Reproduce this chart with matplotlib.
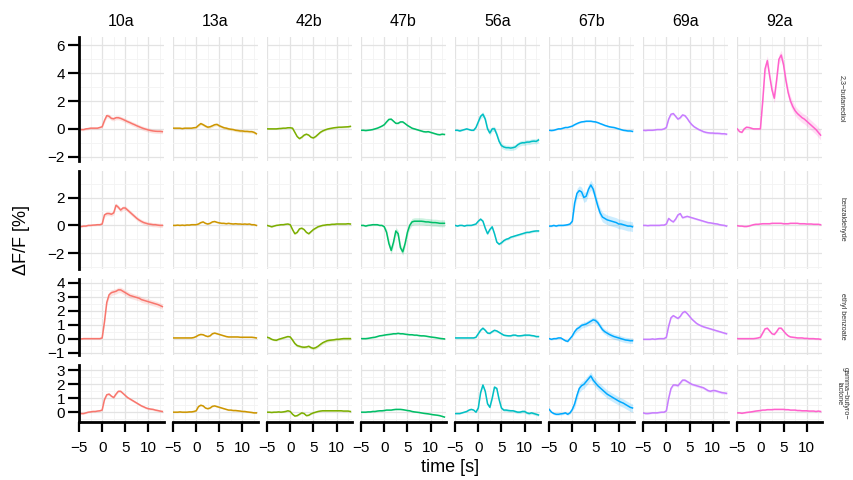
import numpy as np
import matplotlib
matplotlib.use("Agg")
import matplotlib.pyplot as plt
from matplotlib.ticker import MultipleLocator

# time axis (s), 0.5 s steps from -5 to 13
time_s = np.arange(-5, 13.01, 0.5)

neurons = ["10a", "13a", "42b", "47b", "56a", "67b", "69a", "92a"]
odors = ["2,3\u2212butanediol", "benzaldehyde", "ethyl benzoate",
         "gamma\u2212butyro\u2212\nlactone"]
colors = ["#F8766D", "#CD9600", "#7CAE00", "#00BE67",
          "#00BFC4", "#00A9FF", "#C77CFF", "#FF61CC"]

# mean dF/F (%) per neuron, one dict per odor
butanediol = {
    "10a": [0.0, -0.05, -0.05, 0.0, 0.02, 0.05, 0.05, 0.05, 0.05, 0.1, 0.15, 0.6, 0.95, 0.9, 0.75, 0.72, 0.8, 0.8, 0.75, 0.68, 0.6, 0.52, 0.45, 0.37, 0.3, 0.22, 0.15, 0.08, 0.02, -0.03, -0.08, -0.12, -0.15, -0.17, -0.18, -0.18, -0.2],
    "13a": [0.05, 0.05, 0.05, 0.05, 0.02, 0.05, 0.05, 0.05, 0.05, 0.08, 0.1, 0.25, 0.38, 0.3, 0.2, 0.12, 0.15, 0.22, 0.3, 0.32, 0.22, 0.15, 0.08, 0.05, 0.0, -0.03, -0.05, -0.1, -0.12, -0.15, -0.15, -0.18, -0.18, -0.2, -0.2, -0.25, -0.35],
    "42b": [0.0, 0.0, 0.0, 0.0, 0.0, 0.02, 0.03, 0.05, 0.05, 0.08, 0.08, 0.05, -0.25, -0.55, -0.7, -0.6, -0.45, -0.38, -0.45, -0.6, -0.65, -0.55, -0.4, -0.25, -0.15, -0.08, -0.02, 0.02, 0.05, 0.08, 0.1, 0.12, 0.12, 0.13, 0.14, 0.15, 0.18],
    "47b": [-0.1, -0.1, -0.12, -0.1, -0.08, -0.05, 0.0, 0.05, 0.12, 0.2, 0.3, 0.5, 0.68, 0.7, 0.55, 0.4, 0.4, 0.5, 0.5, 0.38, 0.25, 0.15, 0.05, 0.0, -0.05, -0.1, -0.15, -0.2, -0.22, -0.2, -0.25, -0.3, -0.35, -0.4, -0.42, -0.38, -0.4],
    "56a": [-0.1, -0.1, -0.15, -0.1, -0.05, 0.0, -0.05, -0.1, -0.1, 0.1, 0.5, 0.9, 1.05, 0.7, 0.0, -0.3, 0.0, 0.0, -0.4, -0.9, -1.2, -1.3, -1.35, -1.35, -1.38, -1.35, -1.3, -1.15, -1.05, -1.0, -1.0, -0.95, -0.95, -0.9, -0.88, -0.9, -0.8],
    "67b": [-0.1, -0.12, -0.1, -0.05, 0.0, 0.0, 0.05, 0.1, 0.1, 0.15, 0.2, 0.3, 0.38, 0.45, 0.5, 0.52, 0.55, 0.55, 0.55, 0.52, 0.5, 0.45, 0.38, 0.32, 0.25, 0.2, 0.15, 0.12, 0.1, 0.05, 0.0, -0.05, -0.1, -0.12, -0.15, -0.15, -0.18],
    "69a": [-0.1, -0.12, -0.1, -0.1, -0.1, -0.08, -0.05, -0.05, -0.05, 0.0, 0.1, 0.7, 1.05, 1.1, 0.9, 0.7, 0.8, 1.0, 0.95, 0.75, 0.5, 0.3, 0.15, 0.05, -0.05, -0.12, -0.2, -0.25, -0.28, -0.3, -0.3, -0.32, -0.32, -0.33, -0.35, -0.35, -0.38],
    "92a": [0.0, -0.2, -0.25, 0.0, 0.12, 0.1, 0.05, 0.0, 0.0, 0.0, 0.0, 2.0, 4.3, 4.9, 3.8, 2.8, 2.2, 3.5, 5.0, 5.3, 4.6, 3.5, 2.6, 2.0, 1.6, 1.3, 1.1, 0.95, 0.8, 0.7, 0.55, 0.4, 0.25, 0.1, -0.05, -0.25, -0.45],
}
benzaldehyde = {
    "10a": [-0.05, -0.08, -0.05, -0.05, 0.0, 0.0, 0.02, 0.03, 0.05, 0.05, 0.1, 0.75, 0.85, 0.85, 0.8, 0.9, 1.45, 1.3, 1.1, 1.25, 1.25, 1.1, 0.95, 0.8, 0.65, 0.5, 0.38, 0.28, 0.2, 0.15, 0.1, 0.08, 0.05, 0.05, 0.02, 0.0, 0.0],
    "13a": [0.0, 0.0, 0.02, 0.0, 0.02, 0.0, 0.03, 0.02, 0.05, 0.05, 0.05, 0.1, 0.2, 0.25, 0.15, 0.1, 0.15, 0.25, 0.28, 0.22, 0.18, 0.15, 0.15, 0.12, 0.15, 0.12, 0.1, 0.12, 0.1, 0.1, 0.08, 0.1, 0.08, 0.1, 0.05, 0.05, 0.0],
    "42b": [0.0, -0.05, -0.1, -0.05, 0.0, 0.02, 0.05, 0.05, 0.08, 0.1, 0.05, -0.3, -0.6, -0.5, -0.25, -0.2, -0.3, -0.5, -0.6, -0.45, -0.3, -0.2, -0.1, -0.05, 0.0, 0.02, 0.05, 0.05, 0.08, 0.08, 0.1, 0.1, 0.1, 0.1, 0.1, 0.12, 0.1],
    "47b": [0.0, 0.0, -0.05, 0.0, 0.02, 0.05, 0.05, 0.05, 0.0, 0.0, -0.1, -0.5, -1.3, -1.8, -1.2, -0.4, -0.6, -1.6, -1.9, -1.3, -0.5, 0.0, 0.25, 0.3, 0.3, 0.3, 0.3, 0.28, 0.25, 0.25, 0.22, 0.2, 0.2, 0.18, 0.15, 0.15, 0.15],
    "56a": [0.0, -0.05, 0.0, 0.0, -0.05, 0.0, 0.0, 0.0, 0.05, 0.1, 0.3, 0.45, 0.3, -0.2, -0.6, -0.3, -0.1, -0.6, -1.2, -1.35, -1.25, -1.1, -1.0, -0.95, -0.85, -0.8, -0.75, -0.7, -0.65, -0.6, -0.55, -0.5, -0.5, -0.45, -0.42, -0.4, -0.4],
    "67b": [-0.05, -0.05, 0.0, -0.05, 0.0, 0.0, 0.0, 0.02, 0.05, 0.1, 0.3, 1.6, 2.3, 2.5, 2.4, 2.0, 2.1, 2.6, 2.9, 2.6, 2.0, 1.4, 0.9, 0.6, 0.5, 0.4, 0.35, 0.3, 0.25, 0.2, 0.1, 0.1, 0.05, 0.0, -0.05, -0.05, -0.1],
    "69a": [0.0, 0.0, -0.02, 0.0, 0.0, 0.0, 0.0, 0.0, 0.02, 0.02, 0.1, 0.5, 0.35, 0.25, 0.45, 0.75, 0.85, 0.55, 0.6, 0.65, 0.6, 0.55, 0.5, 0.45, 0.4, 0.35, 0.3, 0.25, 0.2, 0.18, 0.15, 0.12, 0.1, 0.05, 0.02, 0.0, -0.05],
    "92a": [-0.02, -0.05, -0.05, -0.08, -0.08, -0.05, 0.0, 0.05, 0.08, 0.08, 0.1, 0.12, 0.12, 0.12, 0.12, 0.15, 0.15, 0.15, 0.15, 0.15, 0.12, 0.12, 0.12, 0.15, 0.15, 0.15, 0.15, 0.12, 0.12, 0.12, 0.1, 0.1, 0.1, 0.08, 0.08, 0.08, 0.05],
}
ethyl_benzoate = {
    "10a": [0.0, -0.02, 0.0, 0.0, 0.0, 0.0, 0.0, 0.0, 0.0, 0.0, 0.05, 1.2, 2.6, 3.15, 3.3, 3.35, 3.4, 3.5, 3.5, 3.4, 3.3, 3.2, 3.1, 3.05, 3.0, 2.95, 2.9, 2.8, 2.75, 2.7, 2.65, 2.6, 2.55, 2.5, 2.45, 2.38, 2.3],
    "13a": [0.05, 0.05, 0.05, 0.05, 0.05, 0.05, 0.05, 0.05, 0.05, 0.08, 0.15, 0.25, 0.3, 0.28, 0.2, 0.15, 0.2, 0.35, 0.4, 0.35, 0.3, 0.25, 0.2, 0.15, 0.12, 0.12, 0.12, 0.12, 0.12, 0.1, 0.1, 0.1, 0.1, 0.1, 0.1, 0.08, 0.05],
    "42b": [0.1, 0.05, -0.05, -0.1, -0.12, -0.05, 0.0, 0.05, 0.1, 0.15, 0.12, -0.1, -0.35, -0.5, -0.55, -0.6, -0.62, -0.6, -0.55, -0.65, -0.7, -0.65, -0.55, -0.42, -0.3, -0.22, -0.15, -0.12, -0.1, -0.08, -0.05, -0.05, -0.02, 0.0, 0.0, 0.0, 0.0],
    "47b": [0.0, 0.0, 0.0, 0.02, 0.05, 0.08, 0.1, 0.15, 0.2, 0.22, 0.25, 0.28, 0.3, 0.32, 0.35, 0.35, 0.38, 0.35, 0.35, 0.32, 0.3, 0.28, 0.28, 0.25, 0.25, 0.22, 0.2, 0.2, 0.18, 0.15, 0.12, 0.1, 0.08, 0.05, 0.02, 0.0, -0.02],
    "56a": [0.05, 0.05, 0.05, 0.05, 0.05, 0.05, 0.05, 0.05, 0.05, 0.1, 0.35, 0.6, 0.75, 0.6, 0.4, 0.38, 0.5, 0.6, 0.55, 0.45, 0.35, 0.25, 0.22, 0.2, 0.2, 0.25, 0.25, 0.2, 0.2, 0.22, 0.25, 0.25, 0.25, 0.22, 0.2, 0.15, 0.15],
    "67b": [0.0, -0.05, 0.0, 0.0, 0.05, 0.05, -0.05, -0.15, -0.2, 0.0, 0.2, 0.5, 0.7, 0.8, 0.95, 1.0, 1.05, 1.15, 1.25, 1.35, 1.3, 1.15, 0.9, 0.65, 0.5, 0.4, 0.3, 0.22, 0.15, 0.1, 0.05, 0.0, -0.05, -0.1, -0.12, -0.15, -0.15],
    "69a": [-0.05, -0.05, -0.05, -0.05, -0.02, -0.05, -0.02, 0.0, 0.0, 0.0, 0.1, 0.9, 1.5, 1.65, 1.55, 1.45, 1.6, 1.85, 1.95, 1.8, 1.6, 1.4, 1.25, 1.1, 1.0, 0.92, 0.85, 0.8, 0.75, 0.7, 0.65, 0.6, 0.55, 0.5, 0.45, 0.4, 0.35],
    "92a": [0.0, 0.0, 0.0, 0.0, 0.0, 0.0, 0.0, 0.0, 0.02, 0.05, 0.1, 0.4, 0.7, 0.75, 0.55, 0.35, 0.3, 0.5, 0.75, 0.75, 0.55, 0.35, 0.2, 0.12, 0.1, 0.08, 0.05, 0.05, 0.05, 0.02, 0.02, 0.0, 0.0, 0.0, -0.02, -0.02, -0.05],
}
gbl = {
    "10a": [-0.05, -0.1, -0.1, -0.05, 0.0, 0.02, 0.05, 0.05, 0.08, 0.1, 0.15, 0.9, 1.25, 1.3, 1.15, 1.05, 1.3, 1.5, 1.5, 1.35, 1.2, 1.05, 0.95, 0.85, 0.75, 0.65, 0.55, 0.45, 0.38, 0.3, 0.25, 0.22, 0.2, 0.15, 0.12, 0.08, 0.05],
    "13a": [0.0, 0.0, 0.0, 0.02, 0.0, 0.0, 0.0, 0.02, 0.02, 0.05, 0.1, 0.4, 0.5, 0.45, 0.3, 0.25, 0.3, 0.42, 0.45, 0.4, 0.35, 0.3, 0.25, 0.2, 0.15, 0.15, 0.12, 0.12, 0.1, 0.08, 0.05, 0.05, 0.02, 0.0, -0.02, -0.05, -0.05],
    "42b": [0.0, 0.0, -0.02, 0.0, 0.0, 0.02, 0.0, 0.02, 0.05, 0.1, 0.05, -0.15, -0.28, -0.25, -0.15, -0.05, -0.1, -0.25, -0.22, -0.12, -0.05, 0.0, 0.05, 0.08, 0.1, 0.1, 0.1, 0.1, 0.1, 0.1, 0.1, 0.1, 0.1, 0.08, 0.08, 0.08, 0.05],
    "47b": [0.0, 0.0, 0.0, 0.02, 0.02, 0.05, 0.05, 0.08, 0.1, 0.1, 0.12, 0.15, 0.15, 0.15, 0.18, 0.2, 0.2, 0.2, 0.18, 0.15, 0.12, 0.1, 0.05, 0.02, 0.0, -0.02, -0.05, -0.08, -0.1, -0.12, -0.15, -0.18, -0.2, -0.22, -0.25, -0.3, -0.35],
    "56a": [-0.1, -0.1, -0.1, -0.05, 0.0, 0.05, 0.15, 0.2, 0.15, 0.0, 0.3, 1.4, 1.95, 1.5, 0.6, 0.35, 1.0, 1.8, 1.7, 0.9, 0.3, 0.15, 0.15, 0.12, 0.1, 0.1, 0.05, 0.0, 0.0, 0.05, 0.05, -0.05, -0.1, -0.05, -0.1, -0.15, -0.2],
    "67b": [0.2, 0.0, -0.1, -0.15, -0.15, -0.12, -0.1, -0.05, -0.15, -0.05, 0.2, 0.6, 1.2, 1.7, 1.9, 2.0, 2.2, 2.4, 2.6, 2.3, 2.1, 1.9, 1.75, 1.6, 1.45, 1.3, 1.2, 1.1, 1.0, 0.9, 0.8, 0.72, 0.65, 0.55, 0.45, 0.35, 0.3],
    "69a": [-0.05, -0.1, -0.1, -0.08, -0.05, -0.05, -0.05, -0.02, 0.0, 0.0, 0.1, 1.0, 1.7, 1.95, 1.95, 1.9, 2.1, 2.3, 2.3, 2.2, 2.1, 2.0, 1.95, 1.9, 1.85, 1.8, 1.75, 1.65, 1.55, 1.5, 1.55, 1.55, 1.5, 1.45, 1.4, 1.38, 1.35],
    "92a": [-0.05, -0.05, -0.08, -0.05, -0.02, 0.0, 0.02, 0.05, 0.08, 0.1, 0.12, 0.15, 0.15, 0.18, 0.18, 0.18, 0.2, 0.2, 0.2, 0.2, 0.2, 0.18, 0.18, 0.15, 0.15, 0.15, 0.12, 0.12, 0.1, 0.1, 0.1, 0.08, 0.08, 0.08, 0.05, 0.08, 0.05],
}
row_data = [butanediol, benzaldehyde, ethyl_benzoate, gbl]

# SEM (%) before / after odour onset, per odor row, in neuron order
sem_pre = [
    [0.08, 0.05, 0.04, 0.04, 0.05, 0.04, 0.04, 0.06],
    [0.06, 0.04, 0.04, 0.05, 0.04, 0.06, 0.04, 0.04],
    [0.05, 0.04, 0.06, 0.04, 0.04, 0.06, 0.04, 0.04],
    [0.05, 0.04, 0.04, 0.04, 0.04, 0.08, 0.05, 0.04],
]
sem_post = [
    [0.15, 0.1, 0.06, 0.06, 0.18, 0.06, 0.08, 0.35],
    [0.15, 0.05, 0.06, 0.25, 0.08, 0.35, 0.07, 0.04],
    [0.2, 0.05, 0.1, 0.05, 0.07, 0.2, 0.07, 0.06],
    [0.08, 0.05, 0.05, 0.04, 0.1, 0.3, 0.1, 0.04],
]

row_ylim = [(-2.3, 6.6), (-3.1, 3.9), (-1.15, 4.3), (-0.7, 3.4)]
row_yticks = [[-2, 0, 2, 4, 6], [-2, 0, 2], [-1, 0, 1, 2, 3, 4], [0, 1, 2, 3]]
row_minor = [1, 1, 0.5, 0.5]
xticks = [-5, 0, 5, 10]

plt.rcParams["font.family"] = ["Liberation Sans", "DejaVu Sans"]
fig = plt.figure(figsize=(8.54, 4.8), dpi=100)
heights = [hi - lo for lo, hi in row_ylim]
gs = fig.add_gridspec(4, 8, height_ratios=heights, left=0.0925, right=0.9625,
                      top=0.923, bottom=0.121, wspace=0.11, hspace=0.115)

for r in range(4):
    for c, nrn in enumerate(neurons):
        ax = fig.add_subplot(gs[r, c])
        y = np.array(row_data[r][nrn])
        sem = np.where(time_s < 0.5, sem_pre[r][c], sem_post[r][c])
        ax.fill_between(time_s, y - sem, y + sem, color=colors[c], alpha=0.2, lw=0)
        ax.plot(time_s, y, color=colors[c], lw=1.1)
        ax.set_xlim(-5, 13.3)
        ax.set_ylim(*row_ylim[r])
        ax.set_xticks(xticks)
        ax.xaxis.set_minor_locator(MultipleLocator(2.5))
        ax.set_yticks(row_yticks[r])
        ax.yaxis.set_minor_locator(MultipleLocator(row_minor[r]))
        ax.grid(True, which="major", color="#E3E3E3", lw=0.9)
        ax.grid(True, which="minor", color="#F3F3F3", lw=0.6)
        ax.set_axisbelow(True)
        for s in ax.spines.values():
            s.set_visible(False)
        ax.tick_params(which="minor", length=0)
        ax.tick_params(axis="both", which="major", length=0, labelleft=False,
                       labelbottom=False, labelsize=11, colors="black")
        if c == 0:
            ax.spines["left"].set_visible(True)
            ax.spines["left"].set_linewidth(2)
            ax.tick_params(axis="y", length=8, width=1.6, labelleft=True, pad=2)
        if r == 3:
            ax.spines["bottom"].set_visible(True)
            ax.spines["bottom"].set_linewidth(2)
            ax.tick_params(axis="x", length=7, width=1.6, labelbottom=True, pad=7)
        if r == 0:
            ax.set_title(nrn, fontsize=11.5, pad=8)
        if c == 7:
            ax.text(1.24, 0.5, odors[r], transform=ax.transAxes, rotation=270,
                    ha="center", va="center", fontsize=5.2, color="#333333",
                    linespacing=0.9)

fig.text(0.025, 0.5, "\u0394F/F [%]", rotation=90, ha="center", va="center", fontsize=13)
fig.text(0.527, 0.027, "time [s]", ha="center", va="center", fontsize=13)
fig.savefig("out.png", dpi=100)
